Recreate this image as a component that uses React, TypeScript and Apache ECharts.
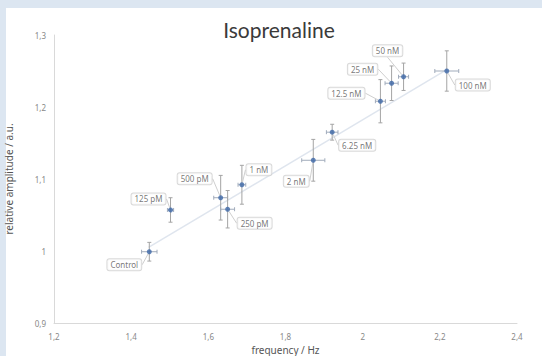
import React, { useEffect, useRef } from "react";
import * as echarts from "echarts";

const labels = ["Control", "125 pM", "500 pM", "250 pM", "1 nM", "2 nM", "6.25 nM", "12.5 nM", "25 nM", "50 nM", "100 nM"];
const freq = [1.447, 1.502, 1.632, 1.650, 1.687, 1.872, 1.921, 2.046, 2.075, 2.106, 2.218];
const amp = [0.999, 1.057, 1.074, 1.058, 1.092, 1.126, 1.165, 1.208, 1.233, 1.242, 1.250];
const freqErr = [0.02, 0.008, 0.018, 0.018, 0.01, 0.03, 0.015, 0.013, 0.017, 0.013, 0.031];
const ampErr = [0.013, 0.017, 0.031, 0.026, 0.027, 0.029, 0.011, 0.03, 0.024, 0.019, 0.028];
const trendX = [1.445, 2.218];
const trendY = [1.005, 1.252];
const xTicks = [1.2, 1.4, 1.6, 1.8, 2, 2.2, 2.4];
const yTicks = [0.9, 1, 1.1, 1.2, 1.3];

// label offsets (px) relative to each point
const labelOffsets: [number, number][] = [
  [-25, 13], [-22, -11], [-26, -19], [27, 14], [17, -15], [-17, 21],
  [25, 13], [-34, -8], [-29, -14], [-16, -26], [26, 14],
];

const fmt = (v: number) => String(Math.round(v * 10) / 10).replace(".", ",");
const FONT = "Noto Sans";

export default function App() {
  const ref = useRef<HTMLDivElement>(null);
  useEffect(() => {
    if (!ref.current) return;
    const chart = echarts.init(ref.current, null, { renderer: "svg" });
    const errData = freq.map((f, i) => [f, amp[i], freqErr[i], ampErr[i]]);
    chart.setOption({
      animation: false,
      backgroundColor: "#dce6f1",
      textStyle: { fontFamily: FONT },
      graphic: [
        { type: "rect", z: -10, shape: { x: 6, y: 8, width: 536, height: 348 }, style: { fill: "#ffffff" }, silent: true },
      ],
      title: {
        text: "Isoprenaline",
        left: 274,
        textAlign: "center",
        top: 14,
        textStyle: { fontFamily: "Lato", fontSize: 21, fontWeight: "normal", color: "#3a3a3a" },
      },
      grid: { left: 54, right: 25, top: 35, bottom: 33, containLabel: false, outerBoundsMode: "none" },
      xAxis: {
        type: "value",
        min: xTicks[0],
        max: xTicks[xTicks.length - 1],
        interval: 0.2,
        name: "frequency / Hz",
        nameLocation: "middle",
        nameGap: 20,
        nameTextStyle: { fontSize: 10, color: "#555555", fontFamily: FONT },
        axisLine: { lineStyle: { color: "#d9d9d9", width: 1 } },
        axisTick: { show: false },
        splitLine: { show: false },
        axisLabel: { formatter: fmt, fontSize: 8, color: "#888888", margin: 9 },
      },
      yAxis: {
        type: "value",
        min: yTicks[0],
        max: yTicks[yTicks.length - 1],
        interval: 0.1,
        name: "relative amplitude / a.u.",
        nameLocation: "middle",
        nameGap: 40,
        nameTextStyle: { fontSize: 10, color: "#555555", fontFamily: FONT },
        axisLine: { show: true, lineStyle: { color: "#d9d9d9", width: 1 } },
        axisTick: { show: false },
        splitLine: { show: false },
        axisLabel: { formatter: fmt, fontSize: 8, color: "#888888", margin: 8 },
      },
      series: [
        {
          type: "line",
          data: trendX.map((x, i) => [x, trendY[i]]),
          symbol: "none",
          lineStyle: { color: "#dfe5ee", width: 1.5 },
          z: 1,
          silent: true,
        },
        {
          type: "custom",
          data: errData,
          z: 2,
          renderItem: (params: any, api: any) => {
            const x = api.value(0), y = api.value(1), xe = api.value(2), ye = api.value(3);
            const l = api.coord([x - xe, y]);
            const r = api.coord([x + xe, y]);
            const t = api.coord([x, y + ye]);
            const b = api.coord([x, y - ye]);
            const c = 2;
            const vs = { stroke: "#a4a4a4", lineWidth: 1 };
            const hs = { stroke: "#a0abbb", lineWidth: 1 };
            return {
              type: "group",
              children: [
                { type: "line", shape: { x1: t[0], y1: t[1], x2: b[0], y2: b[1] }, style: vs },
                { type: "line", shape: { x1: t[0] - c, y1: t[1], x2: t[0] + c, y2: t[1] }, style: vs },
                { type: "line", shape: { x1: b[0] - c, y1: b[1], x2: b[0] + c, y2: b[1] }, style: vs },
                { type: "line", shape: { x1: l[0], y1: l[1], x2: r[0], y2: r[1] }, style: hs },
                { type: "line", shape: { x1: l[0], y1: l[1] - c, x2: l[0], y2: l[1] + c }, style: hs },
                { type: "line", shape: { x1: r[0], y1: r[1] - c, x2: r[0], y2: r[1] + c }, style: hs },
              ],
            };
          },
        },
        {
          type: "scatter",
          data: freq.map((f, i) => ({ value: [f, amp[i]], name: labels[i] })),
          symbol: "circle",
          symbolSize: 5,
          itemStyle: { color: "#3d68a8" },
          z: 3,
          label: {
            show: true,
            position: "inside",
            formatter: (p: any) => p.name,
            fontSize: 8,
            fontFamily: FONT,
            color: "#555555",
            backgroundColor: "#ffffff",
            borderColor: "#d0d0d0",
            borderWidth: 1,
            borderRadius: 2,
            padding: [2, 3, 1, 3],
          },
          labelLine: { show: true, lineStyle: { color: "#cfcfcf", width: 1 } },
          labelLayout: (p: any) => {
            const o = labelOffsets[p.dataIndex];
            return { dx: o[0], dy: o[1], hideOverlap: false };
          },
        },
      ],
    });
    return () => chart.dispose();
  }, []);
  return <div ref={ref} style={{ position: "absolute", left: 0, top: 0, width: 542, height: 356 }} />;
}
